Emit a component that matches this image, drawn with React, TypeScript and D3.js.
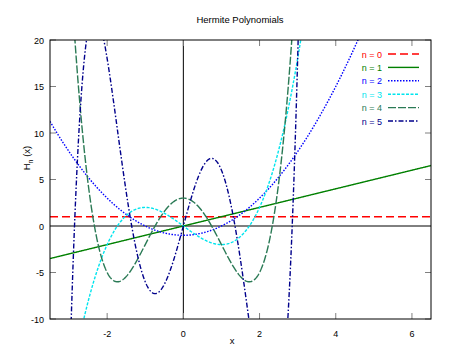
import React from "react";
import * as d3 from "d3";

// Probabilists' Hermite polynomials He_n(x): coefficients from x^0 upward
const seriesNames = ["n = 0", "n = 1", "n = 2", "n = 3", "n = 4", "n = 5"];
const coeffs0 = [1];
const coeffs1 = [0, 1];
const coeffs2 = [-1, 0, 1];
const coeffs3 = [0, -3, 0, 1];
const coeffs4 = [3, 0, -6, 0, 1];
const coeffs5 = [0, 15, 0, -10, 0, 1];
const allCoeffs = [coeffs0, coeffs1, coeffs2, coeffs3, coeffs4, coeffs5];
const colors = ["#ff0000", "#008000", "#0000ff", "#00e5ee", "#2a7a55", "#00008b"];
const dashes = ["8,4", "", "1.5,1.5", "3,1.5", "8,2", "5,2,1.5,2"];
const xTicks = [-2, 0, 2, 4, 6];
const yTicks = [-10, -5, 0, 5, 10, 15, 20];
const xDomain = [-3.5, 6.5];
const yDomain = [-10, 20];

const W = 450, H = 360;
const left = 50, right = 431, top = 40, bottom = 319;

function evalPoly(c: number[], x: number) {
  let v = 0;
  for (let i = c.length - 1; i >= 0; i--) v = v * x + c[i];
  return v;
}

export default function App() {
  const x = d3.scaleLinear().domain(xDomain).range([left, right]);
  const y = d3.scaleLinear().domain(yDomain).range([bottom, top]);
  const xs = d3.range(0, 601).map((i) => xDomain[0] + (i / 600) * (xDomain[1] - xDomain[0]));
  const line = d3
    .line<[number, number]>()
    .x((d) => x(d[0]))
    .y((d) => y(Math.max(-60, Math.min(80, d[1]))));
  const font = "'Liberation Sans', Arial, sans-serif";
  const tickColor = "#808080";
  const tl = 6;
  return (
    <svg width={W} height={H} style={{ position: "absolute", left: 0, top: 0, background: "#fff" }}>
      <defs>
        <clipPath id="plot">
          <rect x={left} y={top} width={right - left} height={bottom - top} />
        </clipPath>
      </defs>
      <text x={240} y={23} fontSize={9.5} fontFamily={font} textAnchor="middle">
        Hermite Polynomials
      </text>
      {/* zero axes */}
      <line x1={left} x2={right} y1={y(0)} y2={y(0)} stroke="#000" strokeWidth={1} />
      <line x1={x(0)} x2={x(0)} y1={top} y2={bottom} stroke="#000" strokeWidth={1} />
      {/* ticks */}
      {xTicks.map((t) => (
        <g key={"x" + t}>
          <line x1={x(t)} x2={x(t)} y1={bottom} y2={bottom - tl} stroke={tickColor} />
          <line x1={x(t)} x2={x(t)} y1={top} y2={top + tl} stroke={tickColor} />
          <text x={x(t)} y={337} fontSize={9} fontFamily={font} textAnchor="middle">
            {t}
          </text>
        </g>
      ))}
      {yTicks.map((t) => (
        <g key={"y" + t}>
          <line x1={left} x2={left + tl} y1={y(t)} y2={y(t)} stroke={tickColor} />
          <line x1={right} x2={right - tl} y1={y(t)} y2={y(t)} stroke={tickColor} />
          <text x={44} y={y(t) + 3.5} fontSize={9} fontFamily={font} textAnchor="end">
            {t}
          </text>
        </g>
      ))}
      {/* curves */}
      <g clipPath="url(#plot)">
        {allCoeffs.map((c, i) => (
          <path
            key={i}
            d={line(xs.map((v) => [v, evalPoly(c, v)]) as [number, number][]) || ""}
            fill="none"
            stroke={colors[i]}
            strokeWidth={1.4}
            strokeDasharray={dashes[i]}
          />
        ))}
      </g>
      {/* legend */}
      {seriesNames.map((n, i) => {
        const ly = 54 + i * 13.4;
        return (
          <g key={n}>
            <text x={382} y={ly + 3.5} fontSize={9} fontFamily={font} textAnchor="end" fill={colors[i]}>
              {n}
            </text>
            <line x1={388} x2={419} y1={ly} y2={ly} stroke={colors[i]} strokeWidth={1.4} strokeDasharray={dashes[i]} />
          </g>
        );
      })}
      {/* border */}
      <rect x={left} y={top} width={right - left} height={bottom - top} fill="none" stroke="#000" strokeWidth={1} />
      {/* axis labels */}
      <text x={232} y={344} fontSize={9.5} fontFamily={font} textAnchor="middle">
        x
      </text>
      <text transform="translate(29.5,158) rotate(-90)" fontSize={9.5} fontFamily={font} textAnchor="middle">
        H<tspan fontSize={7} dy={3}>n</tspan>
        <tspan dy={-3}> (x)</tspan>
      </text>
    </svg>
  );
}
